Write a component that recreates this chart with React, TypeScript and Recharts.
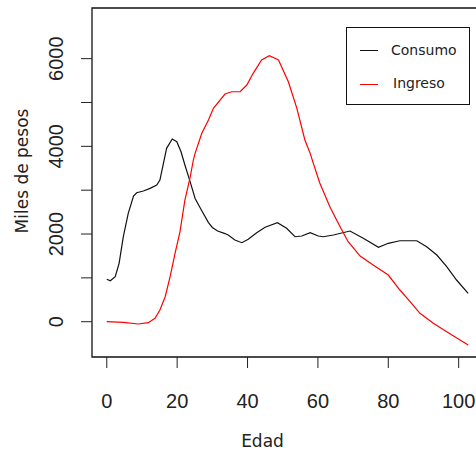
import React from "react";
import { LineChart, Line, XAxis, YAxis, ReferenceArea } from "recharts";

const consumoEdad = [0, 1, 2.4, 3.5, 4.7, 6.1, 7.6, 8.5, 10.4, 12.3, 14.2, 15.1, 16.1, 17.0, 18.6, 19.9, 21.1, 22.2, 23.7, 25.1, 27.0, 28.9, 30.0, 31.5, 33.6, 34.5, 36.4, 38.4, 40.2, 42.6, 45.0, 48.5, 51.1, 53.5, 55.4, 57.8, 60.1, 61.5, 64.4, 69.1, 72.9, 77.2, 80.0, 83.3, 88.1, 90.9, 93.8, 96.6, 99.4, 102.7];
const consumoValor = [967, 935, 1026, 1331, 1940, 2470, 2867, 2942, 2981, 3042, 3117, 3231, 3612, 3954, 4166, 4105, 3877, 3574, 3190, 2810, 2530, 2260, 2150, 2070, 2010, 1977, 1863, 1802, 1879, 2030, 2153, 2258, 2130, 1938, 1954, 2030, 1954, 1938, 1977, 2068, 1902, 1697, 1788, 1847, 1847, 1710, 1521, 1254, 951, 648];

const ingresoEdad = [0, 4.7, 9.0, 11.8, 13.7, 15.1, 16.6, 18.0, 19.4, 20.8, 22.2, 23.7, 24.6, 25.1, 27.0, 28.9, 30.3, 33.6, 35.5, 37.9, 39.8, 41.6, 44.0, 46.2, 48.8, 51.6, 54.0, 56.3, 57.8, 58.7, 60.5, 63.4, 66.3, 68.6, 72.0, 75.7, 80.0, 83.3, 86.2, 89.0, 92.8, 96.6, 100.4, 102.7];
const ingresoValor = [0, -15, -52, -23, 77, 267, 570, 1026, 1560, 2050, 2775, 3300, 3688, 3840, 4296, 4600, 4867, 5193, 5245, 5245, 5398, 5665, 5968, 6066, 5968, 5473, 4870, 4144, 3840, 3612, 3170, 2623, 2167, 1824, 1498, 1293, 1065, 723, 456, 192, -36, -228, -417, -531];

const xTicks = [0, 20, 40, 60, 80, 100];
const yTicks = [0, 1000, 2000, 3000, 4000, 5000, 6000];
const yLabeled = [0, 2000, 4000, 6000];

const xDomain: [number, number] = [-4.2, 107.2];
const yDomain: [number, number] = [-805, 7155];

const consumoData = consumoEdad.map((e, i) => ({ edad: e, valor: consumoValor[i] }));
const ingresoData = ingresoEdad.map((e, i) => ({ edad: e, valor: ingresoValor[i] }));

const tickFont = "'Liberation Sans', Arial, sans-serif";
const labelFont = "'DejaVu Sans', Verdana, sans-serif";

const YTick = (props: any) => {
  const { x, y, payload } = props;
  if (!yLabeled.includes(payload.value)) return null;
  return (
    <text
      x={x}
      y={y}
      transform={`rotate(-90 ${x} ${y})`}
      textAnchor="middle"
      fontFamily={tickFont}
      fontSize={20}
      fill="#222"
    >
      {payload.value}
    </text>
  );
};

const XTick = (props: any) => {
  const { x, y, payload } = props;
  return (
    <text x={x} y={y} textAnchor="middle" fontFamily={tickFont} fontSize={20} fill="#222">
      {payload.value}
    </text>
  );
};

export default function App() {
  return (
    <div style={{ position: "absolute", left: 0, top: 0, width: 476, height: 451, overflow: "hidden", background: "#fff" }}>
      <LineChart width={490} height={451} margin={{ top: 8, right: 6, bottom: 0, left: 0 }}>
        <XAxis
          dataKey="edad"
          type="number"
          domain={xDomain}
          allowDataOverflow
          ticks={xTicks}
          tickSize={11}
          tickMargin={40}
          tick={<XTick />}
          tickLine={{ stroke: "#222" }}
          axisLine={false}
          height={94}
          label={() => (
            <text x={262.5} y={447} textAnchor="middle" fontFamily={labelFont} fontSize={17} fill="#222">
              Edad
            </text>
          )}
        />
        <YAxis
          dataKey="valor"
          type="number"
          domain={yDomain}
          allowDataOverflow
          ticks={yTicks}
          interval={0}
          tickSize={11}
          tickMargin={18}
          tick={<YTick />}
          tickLine={{ stroke: "#222" }}
          axisLine={false}
          width={92}
          label={() => (
            <text
              x={28}
              y={171}
              transform="rotate(-90 28 171)"
              textAnchor="middle"
              fontFamily={labelFont}
              fontSize={17}
              fill="#222"
            >
              Miles de pesos
            </text>
          )}
        />
        <ReferenceArea
          x1={xDomain[0]}
          x2={xDomain[1]}
          y1={yDomain[0]}
          y2={yDomain[1]}
          fill="none"
          fillOpacity={0}
          stroke="#111"
          strokeWidth={1.3}
          ifOverflow="extendDomain"
        />
        <Line
          data={consumoData}
          dataKey="valor"
          type="linear"
          stroke="#111"
          strokeWidth={1.2}
          dot={false}
          isAnimationActive={false}
          name="Consumo"
        />
        <Line
          data={ingresoData}
          dataKey="valor"
          type="linear"
          stroke="#ff0000"
          strokeWidth={1.2}
          dot={false}
          isAnimationActive={false}
          name="Ingreso"
        />
      </LineChart>
      <div
        style={{
          position: "absolute",
          left: 346,
          top: 27,
          width: 124,
          height: 78,
          border: "1px solid #111",
          boxSizing: "border-box",
          background: "#fff",
          fontFamily: labelFont,
          fontSize: 14,
          color: "#222",
        }}
      >
        <div style={{ position: "absolute", left: 13, top: 22, width: 18, height: 1, background: "#111" }} />
        <div style={{ position: "absolute", left: 44, top: 14, lineHeight: "16px", whiteSpace: "nowrap" }}>Consumo</div>
        <div style={{ position: "absolute", left: 13, top: 56, width: 18, height: 1, background: "#ff0000" }} />
        <div style={{ position: "absolute", left: 46, top: 47, lineHeight: "16px", whiteSpace: "nowrap" }}>Ingreso</div>
      </div>
    </div>
  );
}
